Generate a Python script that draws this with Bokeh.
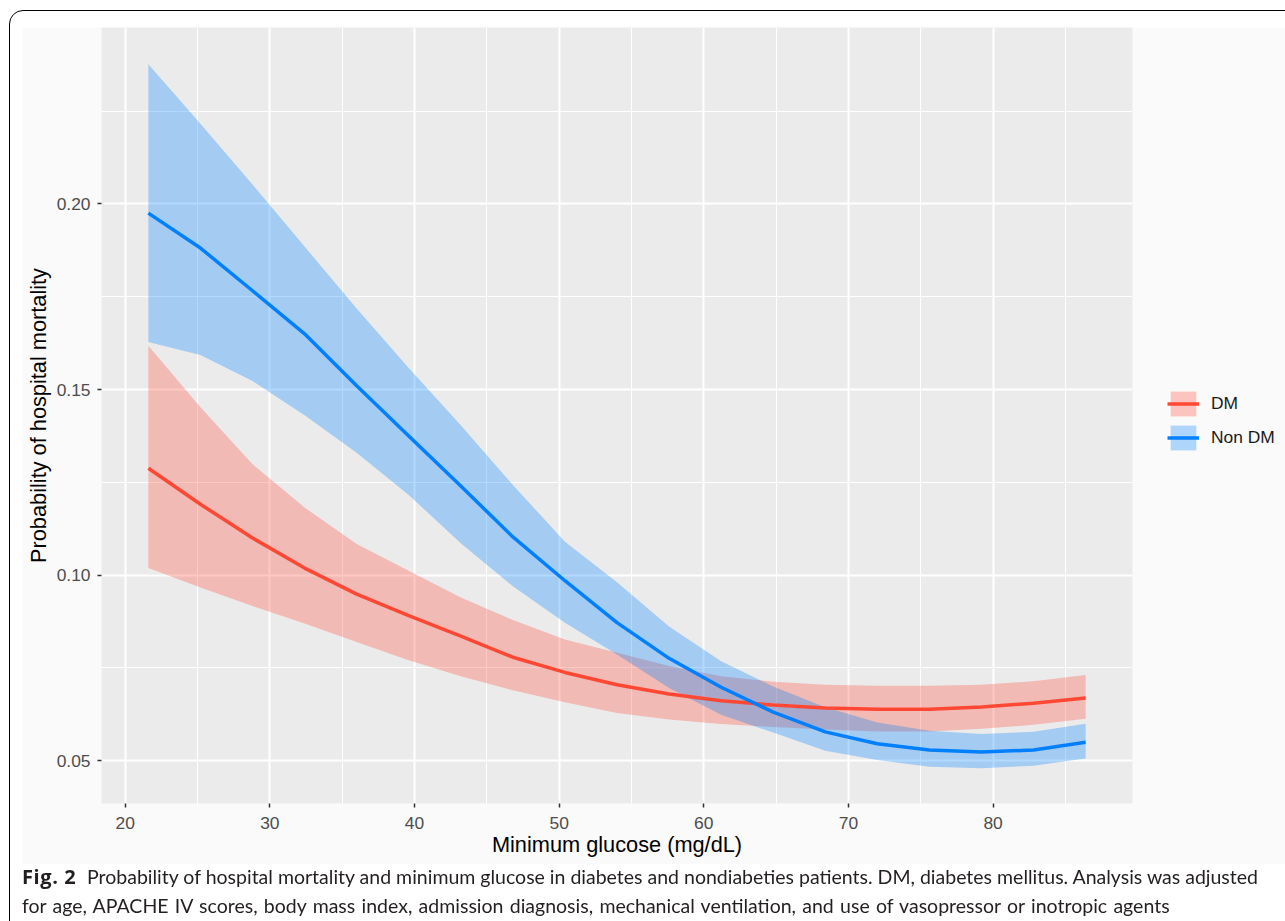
from bokeh.plotting import figure
from bokeh.layouts import column, row
from bokeh.models import (Range1d, FixedTicker, Legend, LegendItem, Div, Spacer,
                          PrintfTickFormatter, ColumnDataSource)
from bokeh.embed import file_html
from bokeh.resources import INLINE

# ---------------- data ----------------
glucose = [21.6, 25.2, 28.8, 32.4, 36.0, 39.6, 43.2, 46.8, 50.4, 54.0,
           57.6, 61.2, 64.8, 68.4, 72.0, 75.6, 79.2, 82.8, 86.4]

dm_prob = [0.1288, 0.1191, 0.1100, 0.1019, 0.0949, 0.0891, 0.0836, 0.0779,
           0.0738, 0.0705, 0.0680, 0.0662, 0.0650, 0.0642, 0.0639, 0.0639,
           0.0645, 0.0655, 0.0669]
dm_lower = [0.1019, 0.0967, 0.0917, 0.0870, 0.0820, 0.0771, 0.0728, 0.0690,
            0.0658, 0.0629, 0.0611, 0.0599, 0.0591, 0.0584, 0.0579, 0.0579,
            0.0586, 0.0597, 0.0613]
dm_upper = [0.1618, 0.1452, 0.1299, 0.1182, 0.1084, 0.1012, 0.0940, 0.0879,
            0.0827, 0.0791, 0.0755, 0.0728, 0.0713, 0.0705, 0.0702, 0.0702,
            0.0705, 0.0714, 0.0731]

nondm_prob = [0.1975, 0.1881, 0.1766, 0.1650, 0.1510, 0.1375, 0.1240, 0.1103,
              0.0985, 0.0872, 0.0776, 0.0698, 0.0631, 0.0578, 0.0546, 0.0529,
              0.0524, 0.0529, 0.0550]
nondm_lower = [0.1628, 0.1593, 0.1523, 0.1431, 0.1330, 0.1216, 0.1086, 0.0970,
               0.0872, 0.0786, 0.0696, 0.0624, 0.0576, 0.0527, 0.0502, 0.0484,
               0.0480, 0.0487, 0.0506]
nondm_upper = [0.2376, 0.2216, 0.2052, 0.1885, 0.1718, 0.1558, 0.1404, 0.1243,
               0.1090, 0.0981, 0.0862, 0.0768, 0.0700, 0.0644, 0.0603, 0.0581,
               0.0572, 0.0578, 0.0600]

group_labels = ["DM", "Non DM"]
x_ticks = [20, 30, 40, 50, 60, 70, 80]
x_minor = [15, 25, 35, 45, 55, 65, 75, 85]
y_ticks = [0.05, 0.10, 0.15, 0.20]
y_minor = [0.075, 0.125, 0.175, 0.225]

x_title = "Minimum glucose (mg/dL)"
y_title = "Probability of hospital mortality"
caption_bold = "Fig. 2"
caption_line1 = ("Probability of hospital mortality and minimum glucose in diabetes and "
                 "nondiabeties patients. DM, diabetes mellitus. Analysis was adjusted")
caption_line2 = ("for age, APACHE IV scores, body mass index, admission diagnosis, "
                 "mechanical ventilation, and use of vasopressor or inotropic agents")

# ---------------- styling / geometry ----------------
DM_COLOR = "#FF4834"
ND_COLOR = "#0080FF"
FONT = "Liberation Sans"
CAP_FONT = "Lato"

FIG_X, FIG_Y = 22, 27          # where the chart image starts on the page
FRAME_W, FRAME_H = 1031, 776
ML, MR, MT, MB = 75, 146, 0, 61

p = figure(frame_width=FRAME_W, frame_height=FRAME_H,
           output_backend="svg", toolbar_location=None,
           x_range=Range1d(18.36, 89.64), y_range=Range1d(0.0385, 0.2475),
           min_border_left=ML, min_border_right=MR,
           min_border_top=MT, min_border_bottom=MB)
p.background_fill_color = "#EBEBEB"
p.border_fill_color = "#FAFAFA"
p.outline_line_color = None

xt = FixedTicker(ticks=x_ticks, minor_ticks=x_minor)
yt = FixedTicker(ticks=y_ticks, minor_ticks=y_minor)
p.xaxis.ticker = xt
p.yaxis.ticker = yt
p.xgrid.ticker = xt
p.ygrid.ticker = yt
p.yaxis.formatter = PrintfTickFormatter(format="%.2f")

for g in (p.xgrid, p.ygrid):
    g.grid_line_color = "white"
    g.grid_line_width = 2
    g.minor_grid_line_color = "white"
    g.minor_grid_line_width = 1

for ax in (p.xaxis, p.yaxis):
    ax.axis_line_color = None
    ax.major_tick_in = 0
    ax.major_tick_out = 4
    ax.major_tick_line_color = "#333333"
    ax.major_tick_line_width = 1.5
    ax.minor_tick_line_color = None
    ax.major_label_text_font = FONT
    ax.major_label_text_font_size = "17.4px"
    ax.major_label_text_color = "#4D4D4D"
    ax.axis_label_text_font = FONT
    ax.axis_label_text_font_style = "normal"
    ax.axis_label_text_font_size = "21.75px"
    ax.axis_label_text_color = "black"

p.xaxis.axis_label = x_title
p.yaxis.axis_label = y_title
p.xaxis.major_label_standoff = 9
p.xaxis.axis_label_standoff = 0
p.yaxis.major_label_standoff = 7
p.yaxis.axis_label_standoff = 3

src = ColumnDataSource(dict(x=glucose, dm=dm_prob, dm_lo=dm_lower, dm_hi=dm_upper,
                            nd=nondm_prob, nd_lo=nondm_lower, nd_hi=nondm_upper))

r_dm_band = p.varea(x="x", y1="dm_lo", y2="dm_hi", source=src,
                    fill_color=DM_COLOR, fill_alpha=0.3)
r_nd_band = p.varea(x="x", y1="nd_lo", y2="nd_hi", source=src,
                    fill_color=ND_COLOR, fill_alpha=0.3)
r_dm_line = p.line("x", "dm", source=src, line_color=DM_COLOR, line_width=3.5)
r_nd_line = p.line("x", "nd", source=src, line_color=ND_COLOR, line_width=3.5)

legend = Legend(items=[LegendItem(label=group_labels[0], renderers=[r_dm_band, r_dm_line]),
                       LegendItem(label=group_labels[1], renderers=[r_nd_band, r_nd_line])],
                location=(35, 350), orientation="vertical",
                glyph_width=32, glyph_height=31, spacing=3, padding=0, margin=0,
                label_standoff=12, label_text_font=FONT, label_text_font_size="17.4px",
                label_text_color="#1A1A1A", border_line_color=None,
                background_fill_alpha=0)
p.add_layout(legend, "right")

frame_box = ('<div style="position:fixed;left:9px;top:10px;width:1400px;height:1000px;'
             'border:1.3px solid #000;border-radius:14px;box-sizing:border-box;'
             'pointer-events:none;"></div>')
caption_html = (frame_box +
                '<div style="position:relative;top:-7px;left:-5px;">'
                '<span style="display:inline-block;width:65px;font-weight:bold;'
                'font-family:\'Open Sans\';font-size:20px;letter-spacing:0.6px;">'
                + caption_bold + '</span>' + caption_line1 + '<br>'
                '<span style="word-spacing:1.3px;">' + caption_line2 + '</span></div>')
caption = Div(text=caption_html, width=1262, height=56,
              styles={"font-family": CAP_FONT, "font-size": "19.5px", "line-height": "29px",
                      "color": "#231F20", "white-space": "nowrap"})

layout = column(Spacer(height=FIG_Y),
                row(Spacer(width=FIG_X), p),
                row(Spacer(width=22), caption))

open("out.html", "w").write(file_html(layout, INLINE))
